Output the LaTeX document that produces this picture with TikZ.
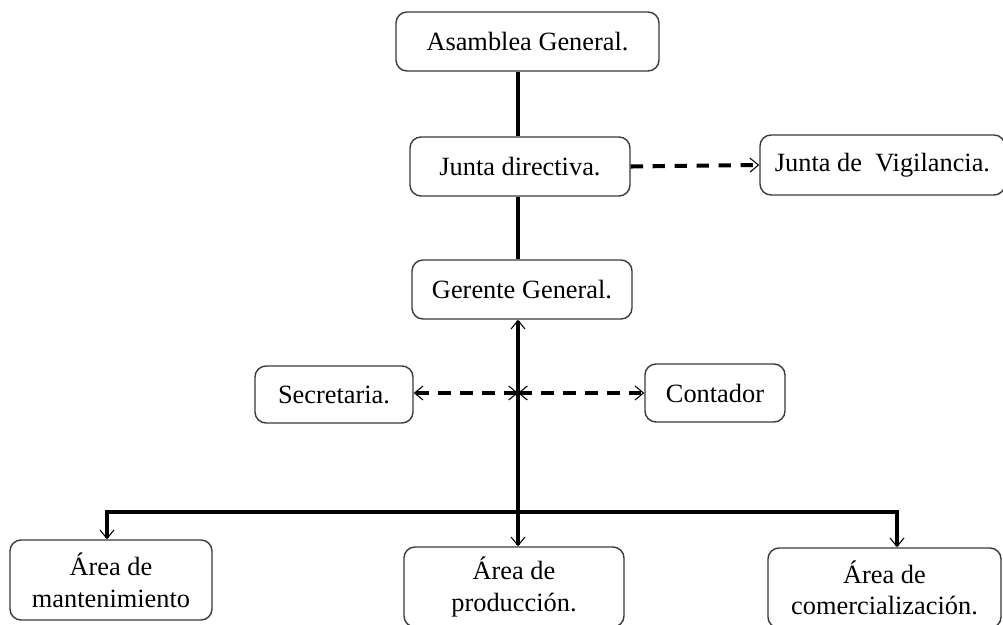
\documentclass[tikz,border=0pt]{standalone}
\usepackage{fontspec}
\setmainfont{Liberation Serif}
\usetikzlibrary{arrows.meta}
\definecolor{boxline}{HTML}{3A3A3A}
\definecolor{linkcol}{HTML}{000000}
\tikzset{
  orgbox/.style={draw=boxline, line width=0.8pt, rounded corners=0.22cm, fill=white,
    align=center, inner sep=0pt, font=\fontsize{15}{18}\selectfont},
  solidlink/.style={draw=linkcol, line width=2.3pt},
  dashlink/.style={draw=linkcol, line width=2.3pt, dash pattern=on 7pt off 5.5pt},
  barb/.tip={Straight Barb[line width=0.6pt, length=1.7mm, width=2.8mm]}
}

\begin{document}
\begin{tikzpicture}
  \useasboundingbox (0,0) rectangle (20.06,-12.5);

  % Boxes
  \node[orgbox, minimum width=5.26cm, minimum height=1.18cm] (asam) at (10.55,-0.83) {Asamblea General.};
  \node[orgbox, minimum width=4.4cm, minimum height=1.18cm] (jdir) at (10.4,-3.33) {Junta directiva.};
  \node[orgbox, minimum width=4.9cm, minimum height=1.2cm] (jvig) at (17.65,-3.3) {Junta de \ Vigilancia.};
  \node[orgbox, minimum width=4.4cm, minimum height=1.18cm] (ger) at (10.44,-5.79) {Gerente General.};
  \node[orgbox, minimum width=3.16cm, minimum height=1.14cm] (sec) at (6.68,-7.89) {Secretaria.};
  \node[orgbox, minimum width=2.8cm, minimum height=1.16cm] (cont) at (14.3,-7.86) {Contador};
  \node[orgbox, minimum width=4.04cm, minimum height=1.6cm] (mant) at (2.22,-11.6) {Área de\\mantenimiento};
  \node[orgbox, minimum width=4.4cm, minimum height=1.6cm] (prod) at (10.28,-11.74) {Área de\\producción.};
  \node[orgbox, minimum width=4.66cm, minimum height=1.6cm] (comer) at (17.69,-11.76) {Área de\\comercialización.};

  \coordinate (spine) at (10.36,0);
  \coordinate (hub) at (10.36,-7.86);
  \coordinate (barL) at (2.14,-10.24);
  \coordinate (barR) at (17.94,-10.24);

  % Solid chain of command
  \draw[solidlink] (asam.south -| spine) -- (jdir.north -| spine);
  \draw[solidlink] (jdir.south -| spine) -- (ger.north -| spine);
  \draw[solidlink, barb-barb] (ger.south -| spine) -- (prod.north -| spine);
  \draw[solidlink, barb-barb, line join=miter] (mant.north -| barL) -- (barL) -- (barR) -- (comer.north -| barR);

  % Staff / advisory links
  \draw[dashlink, -barb] (jdir.east) -- (jvig.west);
  \draw[dashlink, barb-barb] (hub) -- (sec.east |- hub);
  \draw[dashlink, barb-barb] (hub) -- (cont.west |- hub);
\end{tikzpicture}
\end{document}
